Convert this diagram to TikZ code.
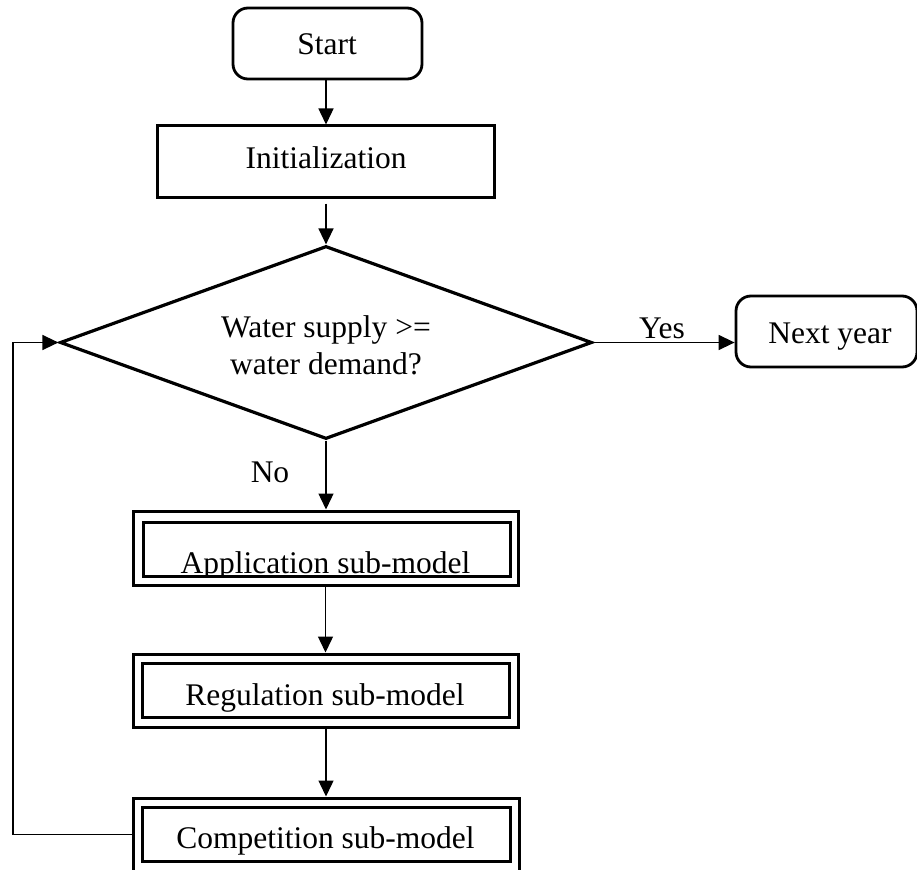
\documentclass[tikz,border=0pt]{standalone}
\usepackage{fontspec}
\setmainfont{Liberation Serif}
\usetikzlibrary{shapes.geometric,arrows.meta}
\begin{document}
\begin{tikzpicture}[x=1pt,y=-1pt,
  rbox/.style={draw,line width=2.8pt,rounded corners=15pt,inner sep=0pt},
  pbox/.style={draw,line width=3pt,inner sep=0pt},
  conn/.style={line width=1.4pt,-{Triangle[length=16pt,width=15pt]}},
  txt/.style={anchor=base,inner sep=0pt,font=\fontsize{31.5}{37}\selectfont}]
\useasboundingbox (0,0) rectangle (917,869);
\clip (0,0) rectangle (917,869);

% start / initialisation
\node[rbox,minimum width=189pt,minimum height=71pt] (start) at (327.5,43.5) {};
\node[txt] (startText) at (327,55) {Start};
\node[pbox,minimum width=337pt,minimum height=71pt] (init) at (326,161.5) {};
\node[txt] (initText) at (326,168) {Initialization};

% decision
\node[diamond,draw,line width=3.2pt,inner sep=0pt,
      minimum width=532pt,minimum height=193pt] (dec) at (326,342.5) {};
\node[txt] (decTextA) at (326,337) {Water supply >=};
\node[txt] (decTextB) at (326,374) {water demand?};

% next year
\node[rbox,minimum width=181pt,minimum height=71pt] (next) at (826.5,331.5) {};
\node[txt] (nextText) at (830,343) {Next year};

% sub-models (double frames, text clipped to the inner frame)
\node[pbox,minimum width=385pt,minimum height=74pt] (appOut) at (325.5,548) {};
\node[pbox,minimum width=367pt,minimum height=54pt] (appIn) at (326.5,549) {};
\begin{scope}
  \clip (appIn.south west) rectangle (appIn.north east);
  \node[txt] (appText) at (325.5,573) {Application sub-model};
\end{scope}

\node[pbox,minimum width=385pt,minimum height=73pt] (regOut) at (325.5,690.5) {};
\node[pbox,minimum width=367pt,minimum height=54pt] (regIn) at (325.5,690) {};
\begin{scope}
  \clip (regIn.south west) rectangle (regIn.north east);
  \node[txt] (regText) at (325,705) {Regulation sub-model};
\end{scope}

\node[pbox,minimum width=386pt,minimum height=73pt] (compOut) at (326,834.5) {};
\node[pbox,minimum width=368pt,minimum height=54pt] (compIn) at (326,834) {};
\begin{scope}
  \clip (compIn.south west) rectangle (compIn.north east);
  \node[txt] (compText) at (325.5,848) {Competition sub-model};
\end{scope}

% connectors
\draw[conn] (start.south -| init.north) -- (init.north);
\draw[conn,shorten <=5pt] (init.south) -- (dec.north);
\draw[conn] (dec.east) -- (dec.east -| next.west);
\node[txt] (yesText) at (662,338) {Yes};
\draw[conn] (dec.south) -- (dec.south |- appOut.north);
\node[txt] (noText) at (270,482) {No};
\draw[conn] (appOut.south -| regOut.north) -- (regOut.north);
\draw[conn] (regOut.south -| compOut.north) -- (compOut.north);

\coordinate (loopX) at (13,0);
\draw[conn] (compOut.west) -- (compOut.west -| loopX) -- (dec.west -| loopX) -- (dec.west);
\end{tikzpicture}
\end{document}
